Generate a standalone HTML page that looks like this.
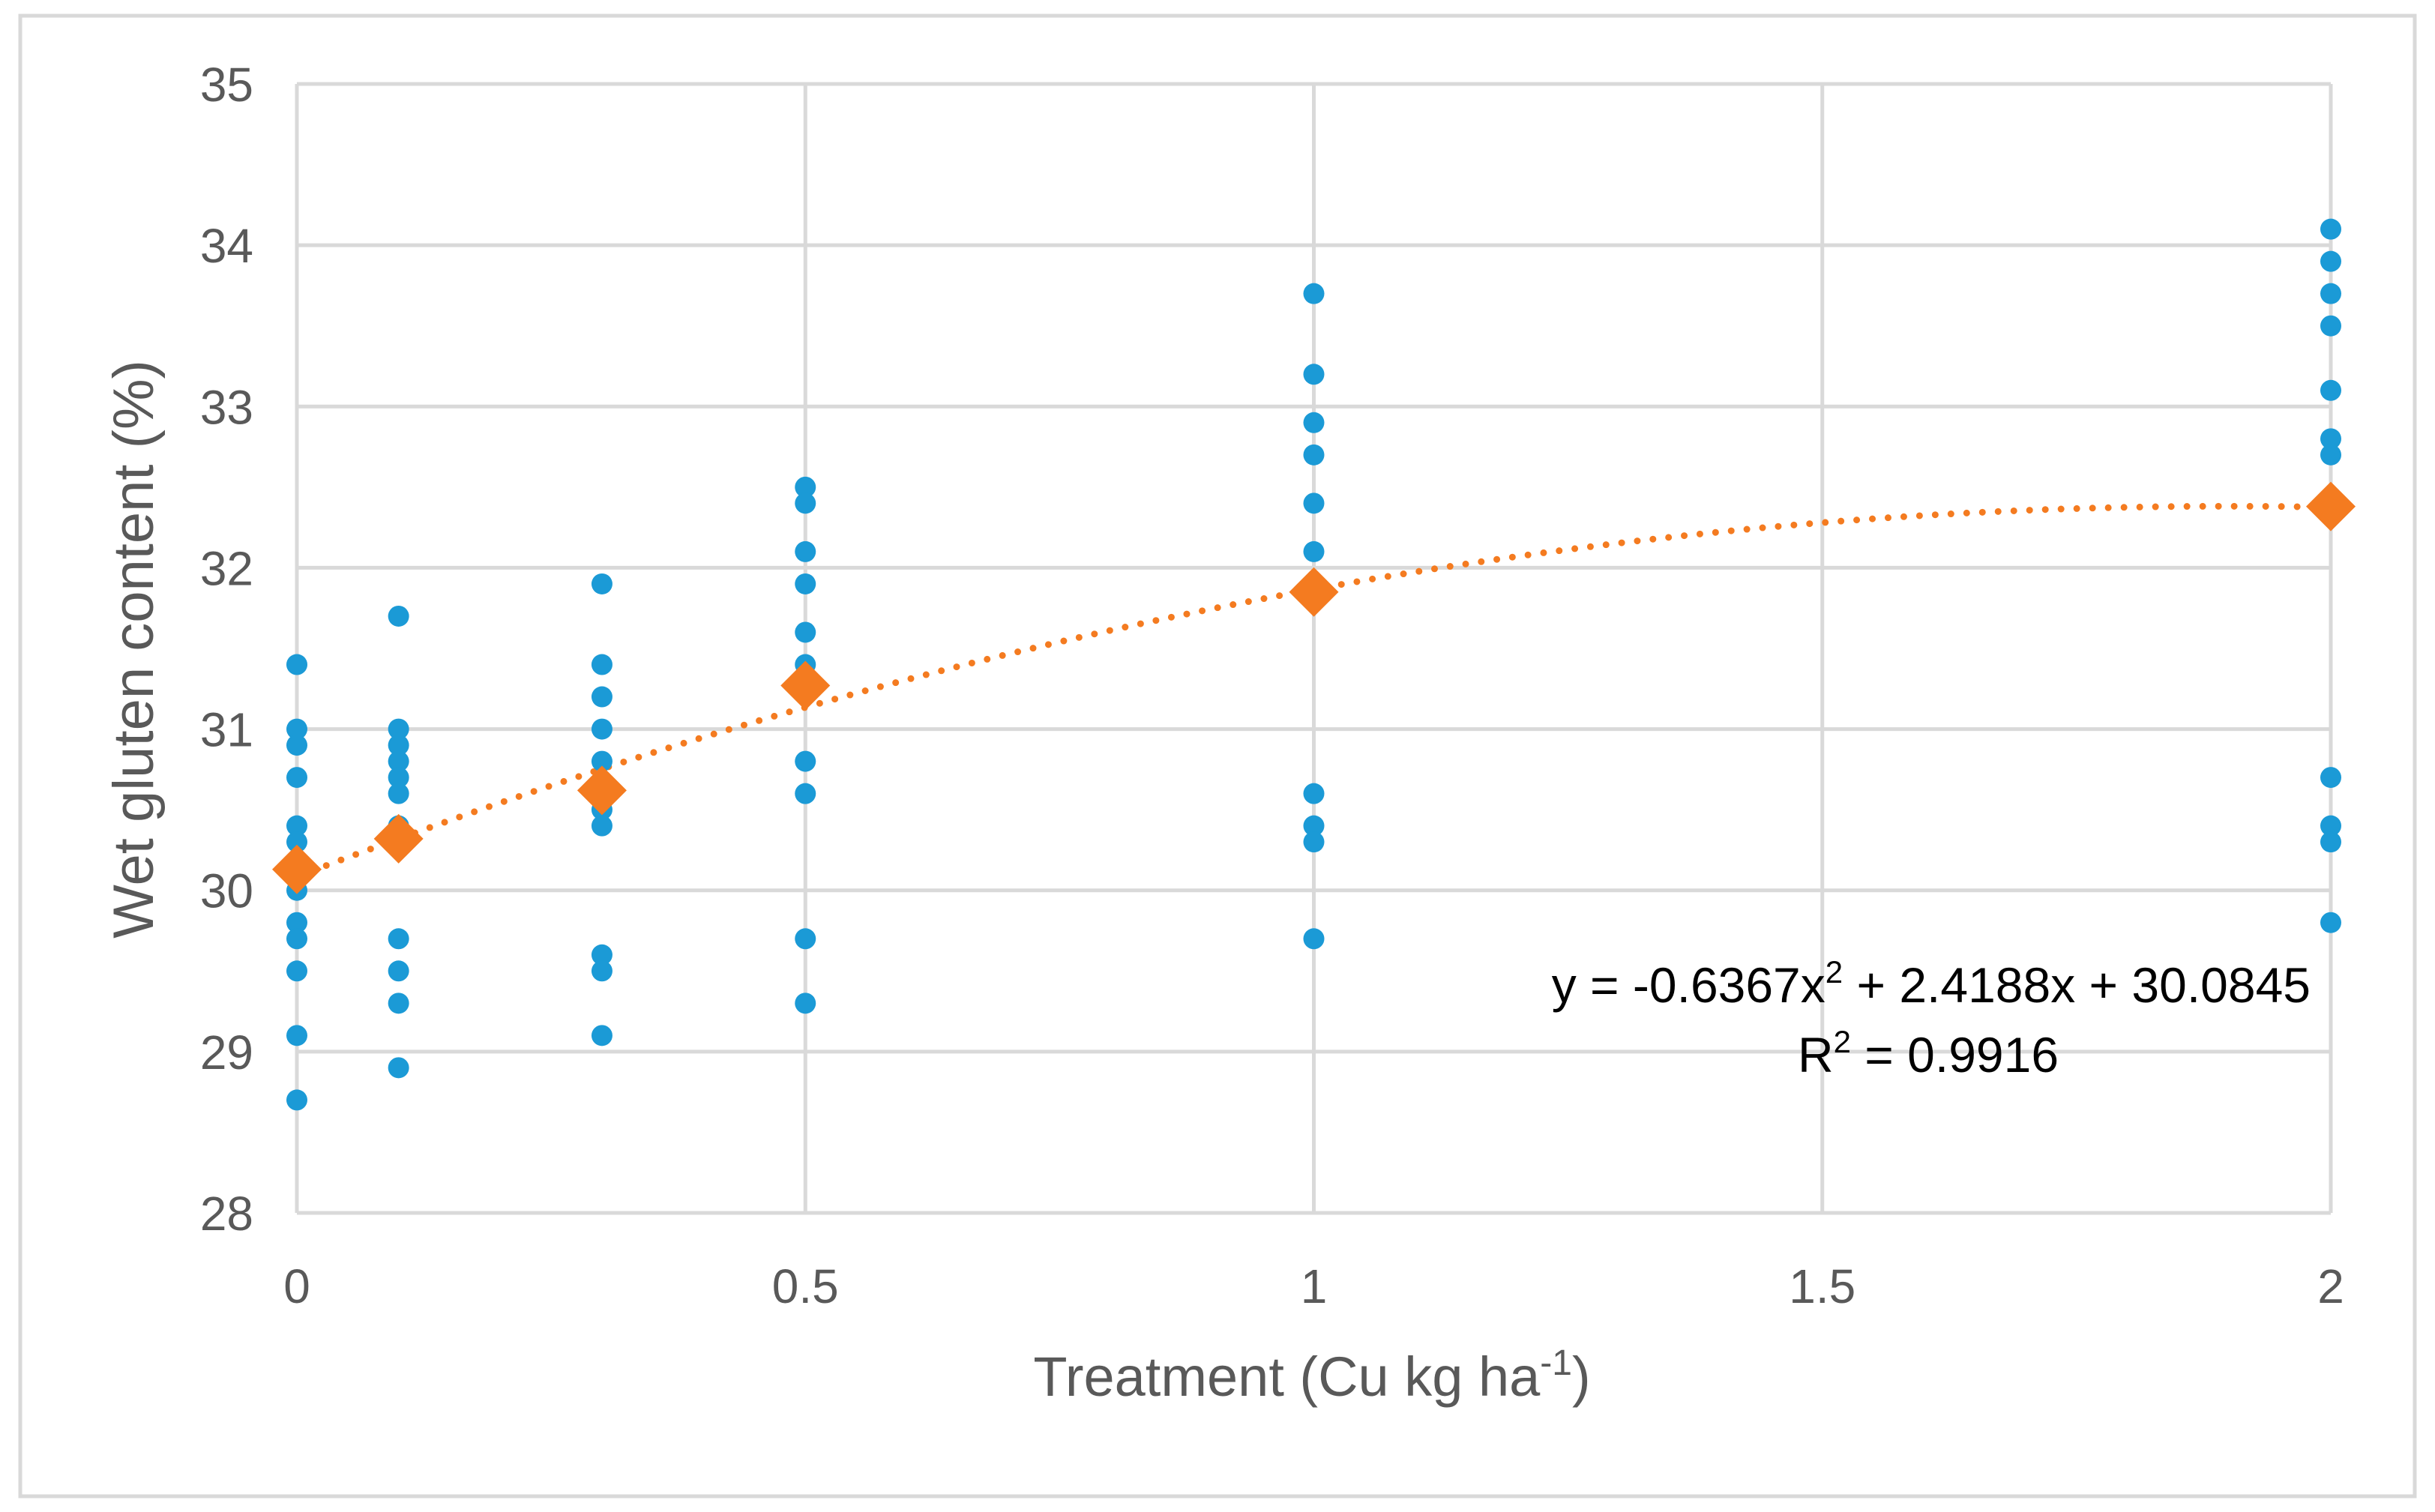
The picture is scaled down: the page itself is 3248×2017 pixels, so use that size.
<!DOCTYPE html>
<html><head><meta charset="utf-8"><style>
html,body{margin:0;padding:0;background:#fff;}
svg{display:block;font-family:"Liberation Sans",sans-serif;}
</style></head><body>
<svg id="chart" width="3248" height="2017" viewBox="0 0 3248 2017" xmlns="http://www.w3.org/2000/svg">
<rect x="27" y="21" width="3194" height="1975" fill="#fff" stroke="#d9d9d9" stroke-width="5"/>
<g id="grid"></g><g id="ticks"></g><g id="trend"></g><g id="points"></g><g id="means"></g>
<text transform="translate(204,866) rotate(-90)" text-anchor="middle" font-size="76" fill="#595959">Wet gluten content (%)</text>
<text x="1750" y="1862" text-anchor="middle" font-size="74" fill="#595959">Treatment (Cu kg ha<tspan font-size="48" dy="-28">-1</tspan><tspan dy="28">)</tspan></text>
<text x="3082" y="1337" text-anchor="end" font-size="66" fill="#000">y = -0.6367x<tspan font-size="42" dy="-26">2</tspan><tspan dy="26"> + 2.4188x + 30.0845</tspan></text>
<text x="2572" y="1430" text-anchor="middle" font-size="66" fill="#000">R<tspan font-size="42" dy="-26">2</tspan><tspan dy="26"> = 0.9916</tspan></text>
</svg>
<script>
const xTicks=[0,0.5,1,1.5,2];
const xTickLabels=["0","0.5","1","1.5","2"];
const yTicks=[28,29,30,31,32,33,34,35];
const treatments=[0,0.1,0.3,0.5,1,2];
const obs0=[31.4,31.0,30.9,30.7,30.4,30.3,30.0,29.8,29.7,29.5,29.1,28.7];
const obs01=[31.7,31.0,30.9,30.8,30.7,30.6,30.4,29.7,29.5,29.3,28.9];
const obs03=[31.9,31.4,31.2,31.0,30.8,30.5,30.4,29.6,29.5,29.1];
const obs05=[32.5,32.4,32.1,31.9,31.6,31.4,30.8,30.6,29.7,29.3];
const obs1=[33.7,33.2,32.9,32.7,32.4,32.1,30.6,30.4,30.3,29.7];
const obs2=[34.1,33.9,33.7,33.5,33.1,32.8,32.7,30.7,30.4,30.3,29.8];
const means=[30.13,30.32,30.62,31.27,31.85,32.38];
const coef=[-0.6367,2.4188,30.0845];
const NS="http://www.w3.org/2000/svg";
const X=v=>396+(v/2)*(3109-396);
const Y=v=>1618-(v-28)/7*(1618-112);
function mk(p,t,a){const e=document.createElementNS(NS,t);for(const k in a)e.setAttribute(k,a[k]);document.getElementById(p).appendChild(e);return e;}
yTicks.forEach(t=>{
 const l=mk('grid','line',{x1:X(0),x2:X(2),y1:Y(t),y2:Y(t),stroke:'#d9d9d9','stroke-width':5});
 
 
 const tx=mk('ticks','text',{x:338,y:Y(t)+23,'text-anchor':'end','font-size':64,fill:'#595959'});
 tx.textContent=t;
 
 
});
xTicks.forEach((t,i)=>{
 const l=mk('grid','line',{x1:X(t),x2:X(t),y1:Y(35),y2:Y(28),stroke:'#d9d9d9','stroke-width':5});
 
 
 const tx=mk('ticks','text',{x:X(t),y:1738,'text-anchor':'middle','font-size':64,fill:'#595959'});
 tx.textContent=xTickLabels[i];
 
 
});
let d='';
for(let i=0;i<=100;i++){const x=2*i/100;const y=coef[0]*x*x+coef[1]*x+coef[2];d+=(i?'L':'M')+X(x).toFixed(1)+' '+Y(y).toFixed(1);}
const tl=mk('trend','path',{d:d,fill:'none',stroke:'#f47b20','stroke-width':9,'stroke-linecap':'round','stroke-dasharray':'0 21'});


const groups=[obs0,obs01,obs03,obs05,obs1,obs2];
groups.forEach((g,gi)=>g.forEach(v=>{
 const c=mk('points','circle',{cx:X(treatments[gi]),cy:Y(v),r:14,fill:'#1b9ad6'});
 
 
}));
means.forEach((m,i)=>{
 const cx=X(treatments[i]),cy=Y(m),s=33;
 const p=mk('means','path',{d:`M${cx} ${cy-s}L${cx+s} ${cy}L${cx} ${cy+s}L${cx-s} ${cy}Z`,fill:'#f47b20'});
 
 
});
</script>
</body></html>
